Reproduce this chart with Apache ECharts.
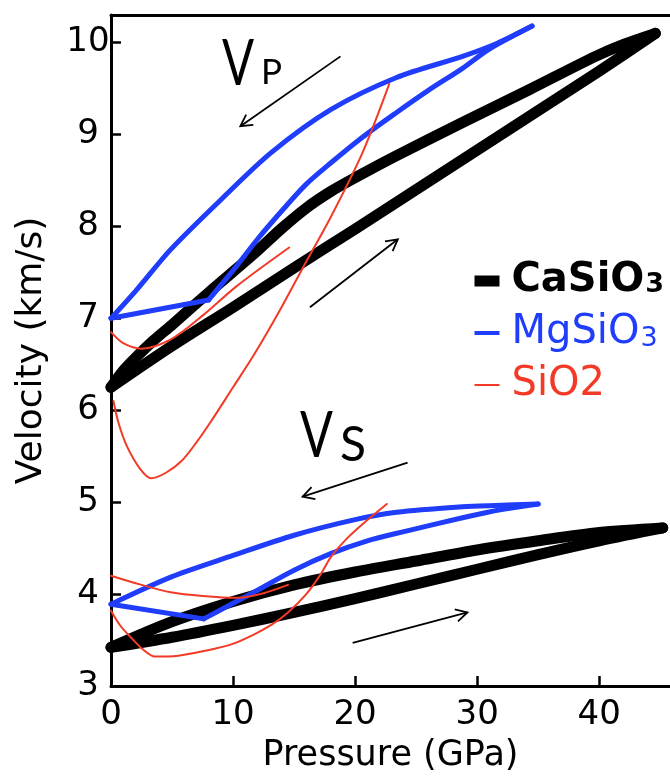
<!DOCTYPE html>
<html>
<head>
<meta charset="utf-8">
<title>Velocity vs pressure</title>
<script src="https://cdn.jsdelivr.net/npm/echarts@6/dist/echarts.min.js"></script>
<style>
html, body { margin: 0; padding: 0; background: #fff; }
#chart { width: 670px; height: 781px; }
</style>
</head>
<body>
<div id="chart"></div>
<script>
// axis ticks
const xTicks = [0, 10, 20, 30, 40]
const yTicks = [3, 4, 5, 6, 7, 8, 9, 10]

// CaSiO3: compression branch (lower) and decompression branch (upper)
const caVpUp = [
  [0, 6.25], [5, 6.7], [10, 7.12], [15, 7.55], [20, 7.97], [25, 8.4], [30, 8.83],
  [35, 9.26], [40, 9.69], [44.6, 10.1]
]
const caVpDown = [
  [44.6, 10.1], [42, 9.98], [39.7, 9.85], [34.3, 9.49], [28.8, 9.13], [23.4, 8.77],
  [20, 8.53], [18, 8.38], [16, 8.2], [14, 7.98], [11.7, 7.7], [8, 7.28], [5, 6.93],
  [3.5, 6.76], [2, 6.57], [1, 6.43], [0, 6.25]
]
const caVsUp = [
  [0, 3.42], [5, 3.53], [10, 3.66], [15, 3.8], [20, 3.95], [25, 4.11], [30, 4.27],
  [35, 4.43], [40, 4.58], [45.2, 4.72]
]
const caVsDown = [
  [45.2, 4.72], [40, 4.67], [35, 4.58], [30, 4.48], [25, 4.36], [20, 4.24], [15, 4.1],
  [10, 3.92], [5, 3.7], [0, 3.42]
]

// MgSiO3: flat start, kink, compression branch, decompression branch
const mgVpStart = [[0, 7.0], [8, 7.2]]
const mgVpUp = [
  [8, 7.2], [10.3, 7.57], [12, 7.86], [14.2, 8.2], [16, 8.46], [18, 8.69], [20.6, 8.97],
  [23.4, 9.24], [26, 9.48], [28.8, 9.72], [31, 9.93], [34.5, 10.18]
]
const mgVpDown = [
  [34.5, 10.18], [31.6, 9.99], [28.8, 9.85], [23.4, 9.62], [18, 9.27], [13.1, 8.8],
  [9, 8.29], [4.9, 7.75], [2.1, 7.31], [0, 7.0]
]
const mgVsStart = [[0, 3.89], [7.6, 3.73]]
const mgVsUp = [
  [7.6, 3.73], [11.7, 4.02], [15, 4.26], [18, 4.44], [21, 4.58], [24, 4.68], [28.8, 4.83],
  [32, 4.92], [35, 4.98]
]
const mgVsDown = [
  [35, 4.98], [31.5, 4.965], [28.8, 4.95], [23.4, 4.89], [20, 4.81], [15, 4.64],
  [10, 4.42], [5, 4.19], [0, 3.89]
]

// SiO2 pieces
const siVpUpper = [
  [0, 6.85], [1, 6.73], [2.5, 6.67], [4.9, 6.77], [7.6, 7.04], [10.3, 7.35], [14.6, 7.77]
]
const siVpLower = [
  [0.2, 6.1], [0.6, 5.87], [1.3, 5.61], [2.4, 5.36], [3.3, 5.26], [4.5, 5.32], [5.8, 5.45],
  [7, 5.65], [8.2, 5.88], [10, 6.25], [11.7, 6.6], [13.8, 7.08], [15.8, 7.57],
  [18, 8.1], [20.6, 8.8], [22.8, 9.55]
]
const siVsUpper = [
  [0, 4.2], [2.5, 4.1], [4.9, 4.02], [7.5, 3.98], [10.4, 3.96], [12.5, 4.01], [14.5, 4.1]
]
const siVsLower = [
  [0, 3.82], [0.8, 3.65], [1.7, 3.52], [2.6, 3.4], [3.6, 3.32], [5.5, 3.33], [7.6, 3.38],
  [9.8, 3.45], [11.7, 3.56], [13.2, 3.67], [14.5, 3.8], [16, 4.0], [17.2, 4.22],
  [18, 4.4], [19.3, 4.6], [20.6, 4.76], [22.6, 4.98]
]

// arrows: [p from, v from, p to, v to]
const arrows = [
  [18.8, 9.85, 10.6, 9.09],
  [16.3, 7.12, 23.5, 7.86],
  [24.3, 5.43, 15.7, 5.06],
  [19.8, 3.47, 29.2, 3.8]
]

const BLUE = '#1f3dfb'
const RED = '#f23a26'
const FONT = 'DejaVu Sans'

function lines(name, parts, color, width, smooth) {
  return parts.map(part => ({
    name: name,
    type: 'line',
    data: part,
    symbol: 'none',
    smooth: part.length > 2 ? smooth : false,
    silent: true,
    lineStyle: { color: color, width: width, cap: 'round', join: 'round' },
    itemStyle: { color: color }
  }))
}

function renderArrow(params, api) {
  const a = api.coord([api.value(0), api.value(1)])
  const b = api.coord([api.value(2), api.value(3)])
  const ang = Math.atan2(b[1] - a[1], b[0] - a[0])
  const len = 13
  const spread = 0.5
  const h1 = [b[0] - len * Math.cos(ang - spread), b[1] - len * Math.sin(ang - spread)]
  const h2 = [b[0] - len * Math.cos(ang + spread), b[1] - len * Math.sin(ang + spread)]
  const style = { stroke: '#000', lineWidth: 1.8, fill: null }
  return {
    type: 'group',
    children: [
      { type: 'line', shape: { x1: a[0], y1: a[1], x2: b[0], y2: b[1] }, style: style },
      { type: 'polyline', shape: { points: [h1, b, h2] }, style: style }
    ]
  }
}

const chart = echarts.init(document.getElementById('chart'))

const option = {
  backgroundColor: '#fff',
  animation: false,
  grid: { left: 111, right: 0, top: 15, bottom: 95 },
  xAxis: [
    {
      type: 'value',
      min: 0,
      max: 45.8,
      name: 'Pressure (GPa)',
      nameLocation: 'middle',
      nameGap: 52,
      nameTextStyle: { fontFamily: FONT, fontSize: 35, color: '#000' },
      axisLine: { lineStyle: { color: '#000', width: 3 } },
      axisTick: { inside: true, length: 10, lineStyle: { color: '#000', width: 2.5 }, customValues: xTicks },
      axisLabel: { fontFamily: FONT, fontSize: 34, color: '#000', margin: 12, customValues: xTicks },
      splitLine: { show: false }
    },
    {
      type: 'value',
      position: 'top',
      min: 0,
      max: 45.8,
      axisLine: { lineStyle: { color: '#000', width: 3 } },
      axisTick: { show: false },
      axisLabel: { show: false },
      splitLine: { show: false }
    }
  ],
  yAxis: {
    type: 'value',
    min: 3,
    max: 10.3,
    name: 'Velocity (km/s)',
    nameLocation: 'middle',
    nameGap: 61,
    nameTextStyle: { fontFamily: FONT, fontSize: 36, color: '#000' },
    axisLine: { show: true, lineStyle: { color: '#000', width: 3 } },
    axisTick: { inside: true, length: 10, lineStyle: { color: '#000', width: 2.5 }, customValues: yTicks },
    axisLabel: { fontFamily: FONT, fontSize: 34, color: '#000', align: 'center', margin: 23, customValues: yTicks },
    splitLine: { show: false }
  },
  legend: {
    orient: 'vertical',
    left: 464,
    top: 256,
    itemWidth: 25,
    itemHeight: 12,
    itemGap: 12,
    selectedMode: false,
    itemStyle: { opacity: 0 },
    data: [
      { name: 'CaSiO3', lineStyle: { width: 11, cap: 'butt' } },
      { name: 'MgSiO3', lineStyle: { width: 4, cap: 'butt' } },
      { name: 'SiO2', lineStyle: { width: 2, cap: 'butt' } }
    ],
    formatter: function (name) {
      return {
        CaSiO3: '{ca|CaSiO}{cas|3}',
        MgSiO3: '{mg|MgSiO}{mgs|3}',
        SiO2: '{si|SiO2}'
      }[name]
    },
    textStyle: {
      fontFamily: FONT,
      padding: [0, 0, 0, 7],
      rich: {
        ca: { fontFamily: FONT, fontSize: 40, fontWeight: 'bold', color: '#000' },
        cas: { fontFamily: FONT, fontSize: 27, fontWeight: 'bold', color: '#000', padding: [8, 0, 0, 1] },
        mg: { fontFamily: FONT, fontSize: 40, color: BLUE },
        mgs: { fontFamily: FONT, fontSize: 27, color: BLUE, padding: [12, 0, 0, 1] },
        si: { fontFamily: FONT, fontSize: 40, color: RED }
      }
    }
  },
  graphic: [
    { type: 'text', x: 222, y: 64, scaleX: 0.74, style: { text: 'V', font: '64px Lato', fill: '#000', verticalAlign: 'middle' } },
    { type: 'text', x: 261, y: 73, style: { text: 'P', font: '35px Lato', fill: '#000', verticalAlign: 'middle' } },
    { type: 'text', x: 300, y: 436, scaleX: 0.76, style: { text: 'V', font: '64px Lato', fill: '#000', verticalAlign: 'middle' } },
    { type: 'text', x: 340, y: 446, style: { text: 'S', font: '48px Lato', fill: '#000', verticalAlign: 'middle' } }
  ],
  series: [].concat(
    lines('CaSiO3', [caVpUp, caVpDown, caVsUp, caVsDown], '#000', 11, 0.3),
    lines('MgSiO3', [mgVpStart, mgVpUp, mgVpDown, mgVsStart, mgVsUp, mgVsDown], BLUE, 5, 0.3),
    lines('SiO2', [siVpUpper, siVpLower, siVsUpper, siVsLower], RED, 2, 0.3),
    [{
      type: 'custom',
      name: 'arrows',
      silent: true,
      renderItem: renderArrow,
      encode: { x: [0, 2], y: [1, 3] },
      data: arrows
    }]
  )
}

chart.setOption(option)
window.addEventListener('resize', () => { chart.resize() })
</script>
</body>
</html>
